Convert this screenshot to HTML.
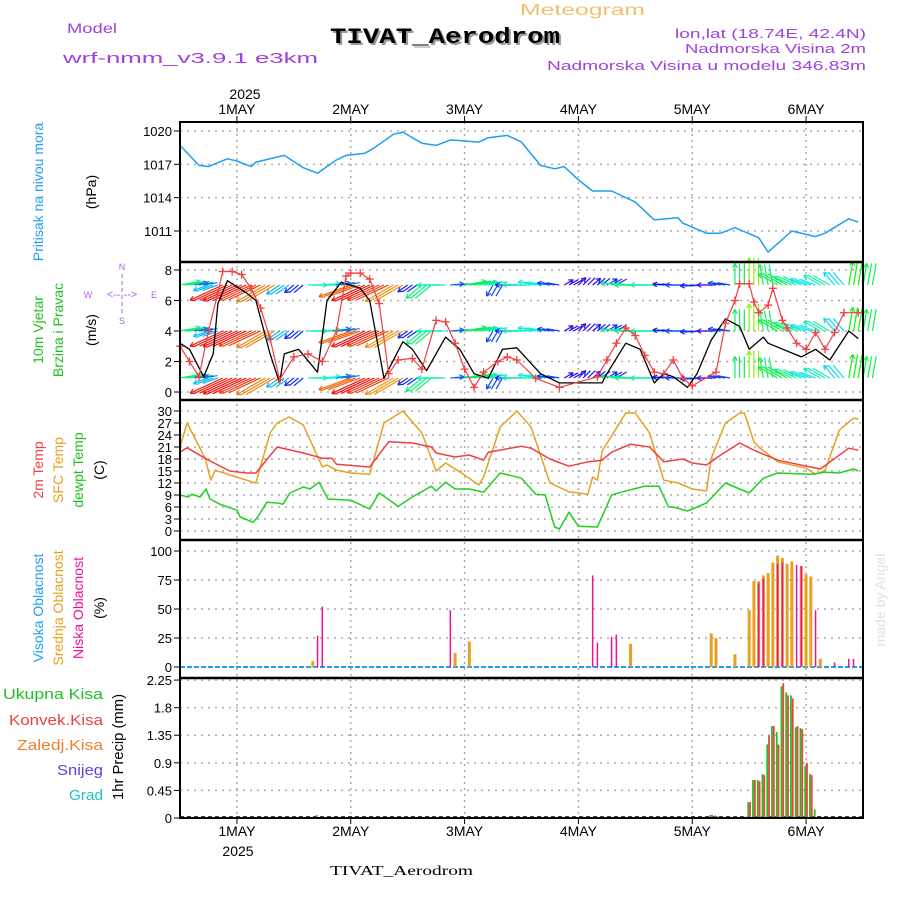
<!DOCTYPE html>
<html><head><meta charset="utf-8"><style>
html,body{margin:0;padding:0;background:#fff;}
svg{display:block;font-family:"Liberation Sans",sans-serif;}
</style></head><body>
<svg id="chart" width="900" height="900" viewBox="0 0 900 900">
<rect x="0" y="0" width="900" height="900" fill="#fff"/>
<text x="67" y="33" font-size="14" fill="#a040e0" textLength="50" lengthAdjust="spacingAndGlyphs">Model</text>
<text x="63" y="63" font-size="15" fill="#a040e0" textLength="255" lengthAdjust="spacingAndGlyphs">wrf-nmm_v3.9.1 e3km</text>
<text x="520" y="15" font-size="16" fill="#f0c070" textLength="125" lengthAdjust="spacingAndGlyphs">Meteogram</text>
<text x="332" y="45" font-size="22" font-weight="bold" fill="#999" textLength="230" lengthAdjust="spacingAndGlyphs" font-family="Liberation Mono,monospace">TIVAT_Aerodrom</text>
<text x="330" y="43" font-size="22" font-weight="bold" fill="#000" textLength="230" lengthAdjust="spacingAndGlyphs" font-family="Liberation Mono,monospace">TIVAT_Aerodrom</text>
<text x="675" y="38" font-size="13" fill="#a040e0" textLength="191" lengthAdjust="spacingAndGlyphs">lon,lat (18.74E, 42.4N)</text>
<text x="685" y="53" font-size="13" fill="#a040e0" textLength="181" lengthAdjust="spacingAndGlyphs">Nadmorska Visina 2m</text>
<text x="547" y="70" font-size="13" fill="#a040e0" textLength="319" lengthAdjust="spacingAndGlyphs">Nadmorska Visina u modelu 346.83m</text>

<text transform="translate(43,192) rotate(-90)" font-size="14" fill="#1ea0f0" text-anchor="middle">Pritisak na nivou mora</text>
<text transform="translate(96,192) rotate(-90)" font-size="14" fill="#000" text-anchor="middle">(hPa)</text>
<text transform="translate(43,330) rotate(-90)" font-size="14" fill="#20c020" text-anchor="middle">10m Vjetar</text>
<text transform="translate(63,330) rotate(-90)" font-size="14" fill="#20c020" text-anchor="middle">Brzina i Pravac</text>
<text transform="translate(96,330) rotate(-90)" font-size="14" fill="#000" text-anchor="middle">(m/s)</text>
<g fill="#b060f0" font-size="9">
<text x="122" y="270" text-anchor="middle">N</text><text x="122" y="324" text-anchor="middle">S</text>
<text x="88" y="298" text-anchor="middle">W</text><text x="154" y="298" text-anchor="middle">E</text>
<text x="122" y="298" text-anchor="middle" font-size="11">&lt;-- --&gt;</text>
<line x1="122" y1="274" x2="122" y2="314" stroke="#b060f0" stroke-dasharray="4,3"/>
</g>
<text transform="translate(43,470) rotate(-90)" font-size="14" fill="#f04040" text-anchor="middle">2m Temp</text>
<text transform="translate(63,470) rotate(-90)" font-size="14" fill="#e8a020" text-anchor="middle">SFC Temp</text>
<text transform="translate(83,470) rotate(-90)" font-size="14" fill="#20c020" text-anchor="middle">dewpt Temp</text>
<text transform="translate(104,470) rotate(-90)" font-size="14" fill="#000" text-anchor="middle">(C)</text>
<text transform="translate(43,608) rotate(-90)" font-size="14" fill="#1ea0f0" text-anchor="middle">Visoka Oblacnost</text>
<text transform="translate(63,608) rotate(-90)" font-size="14" fill="#e8a020" text-anchor="middle">Srednja Oblacnost</text>
<text transform="translate(83,608) rotate(-90)" font-size="14" fill="#f0109a" text-anchor="middle">Niska Oblacnost</text>
<text transform="translate(104,608) rotate(-90)" font-size="14" fill="#000" text-anchor="middle">(%)</text>
<text x="3" y="699" font-size="15" fill="#20c020" textLength="100" lengthAdjust="spacingAndGlyphs">Ukupna Kisa</text>
<text x="9" y="725" font-size="15" fill="#f04040" textLength="94" lengthAdjust="spacingAndGlyphs">Konvek.Kisa</text>
<text x="17" y="750" font-size="15" fill="#f08030" textLength="86" lengthAdjust="spacingAndGlyphs">Zaledj.Kisa</text>
<text x="57" y="775" font-size="15" fill="#6040e0" textLength="46" lengthAdjust="spacingAndGlyphs">Snijeg</text>
<text x="69" y="800" font-size="15" fill="#20c0c0" textLength="34" lengthAdjust="spacingAndGlyphs">Grad</text>
<text transform="translate(123,747) rotate(-90)" font-size="15" fill="#000" text-anchor="middle" textLength="106" lengthAdjust="spacingAndGlyphs">1hr Precip (mm)</text>
<text transform="translate(885,600) rotate(-90)" font-size="14" fill="#d8e4dc" text-anchor="middle">made by Angel</text>
<text x="245" y="99" font-size="14" fill="#000" text-anchor="middle">2025</text>
<text x="238" y="856" font-size="14" fill="#000" text-anchor="middle">2025</text>
<text x="330" y="875" font-size="14" fill="#000" textLength="143" lengthAdjust="spacingAndGlyphs" font-family="Liberation Serif,serif">TIVAT_Aerodrom</text>
<g id="plot"></g>
</svg>
<script>
// ---- data ----
var dayLabels = ["1MAY","2MAY","3MAY","4MAY","5MAY","6MAY"];
var pHours = [0,4,6,10,12,15,16,22,26,29,33,35,39,41,45,47,51,54,57,63,65,69,72,76,79,81,84,87,91,96,100,105,106,111,114,117,122,124,129,134,136,141,143];
var pVals = [1018.7,1016.9,1016.8,1017.5,1017.3,1016.8,1017.2,1017.8,1016.7,1016.2,1017.4,1017.8,1018,1018.5,1019.7,1019.9,1018.9,1018.7,1019.2,1019,1019.4,1019.6,1019,1016.9,1016.6,1016.8,1015.6,1014.6,1014.6,1013.6,1012,1012.2,1011.7,1010.8,1010.8,1011.3,1010.4,1009.1,1011,1010.5,1010.8,1012.1,1011.8];
var pTicks = [1020,1017,1014,1011];

var wsHours = [0,2,5,7,8,10,14,16,19,21,22,25,29,31,34,38,40,43,47,49,52,56,59,62,65,68,71,76,80,89,90,94,97,100,102,104,107,109,112,115,118,120,123,124,131,134,137,141,143];
var wsVals = [3.2,2.8,1,2.5,5.8,7.3,6.5,6,2.5,0.6,2.5,2.8,1.3,6,7.2,6.8,6,0.9,3.3,2.8,1.4,3.6,2.8,1.2,0.9,2.8,2.9,1.2,0.6,0.6,1.2,3.2,2.8,0.6,1.2,1,0.3,1.2,3.4,4.8,4.3,2.8,3.6,3.2,2.3,2.8,2.1,4,3.5];
var gustHours = [0,2,4,6,8,9,11,13,15,17,19,21,24,27,30,33,35,36,38,40,42,44,46,49,51,54,56,58,60,62,64,67,69,71,75,80,88,90,92,94,96,98,100,102,104,106,108,113,115,117,118,120,121,122,124,125,127,128,130,132,134,136,138,140,143];
var gustVals = [3,2,1,4,6.5,7.9,7.9,7.7,6.8,5.5,3.5,0.8,2.3,2.5,2,4,7.6,7.8,7.8,7.4,5.8,1.2,2.1,2.2,1.5,4.7,4.6,3.2,1.5,0.3,1.3,2,2.3,2.1,0.9,0.3,1,2.1,3.2,4.2,3.7,2.4,1.3,1.2,2.1,0.9,0.4,1.3,4.5,6,7.1,7.1,5.9,5.2,5.7,6.8,4.7,4.2,3.2,2.8,3.9,2.8,3.9,5.2,5.2];
var arrowSpd = [3.2,1.5,2,7,7.3,6.8,6.3,2,1,2.8,2.5,1.5,6.5,7.2,6.8,6.2,1,3.2,2.8,1.4,3.5,2.8,1.2,1,2.8,2.5,1.2,0.6,0.6,0.6,1,3,3.2,2.8,0.8,1.2,1,0.4,1.2,3.4,4.8,3.2,3.6,3,2.3,2.8,2.2,4,3.5];
var arrowDir = [10,10,200,205,205,205,210,215,220,0,5,10,200,205,205,210,215,220,180,5,10,10,240,180,180,170,170,30,45,40,30,175,180,180,175,180,185,180,170,90,90,100,150,155,160,150,130,80,80];
var wTicks = [0,2,4,6,8];

var t2Hours = [0,1.5,6,10.5,14,16,20.5,26,30,32,33,40,44,49,53,54,58,61,64,65,72,74,78,82,86,89,91,95,99,102,106,108,111,114,118,121,126,135,141,143];
var t2Vals = [19.7,20.8,17.7,15,14.5,14.5,21,19.5,18.2,18.2,16.7,16,22.3,22,21,19.5,18.5,19,17.7,19.7,21.2,20.7,18,16.2,17.3,17.7,19.7,21.7,21,17.3,18,17,16.5,19,22,20.2,17.7,15.5,20.7,20.2];
var sfcHours = [0,1.5,5.3,6.5,7.4,10.5,16,19,20.5,23,26,30,31,33,36,40,43,47,51,54,56,60,63,64,67.5,71,74,78,82,86,87,88,89,92,94,96,99,102,105,108,111,112,115,118,119,121,122,126,132,134,136,139,142,143];
var sfcVals = [21,27,18.2,12.7,15.2,14,12,24.5,27,28.5,26.5,16,16.5,15.2,14.5,14.2,27,30,24.5,15,17,14,11.5,13.5,26,30,26,12,9.8,9.2,13.5,12.7,20,25.7,29.5,29.5,24.5,12.7,12,10.5,10,18.2,27,29.5,29.5,22.3,21,17.3,15.7,14.2,15.2,25.2,28.2,28];
var tdHours = [0,1.7,2.5,4.2,5.5,6.3,8.4,12,12.7,15.4,16.4,18.3,20.5,21.7,23.2,26,27.4,29.3,31.2,36,40,42,46,49,53,54,56,58,61,64,67.5,72,75,77,79,80,82,84,88,91,93,98,101,103,104,107,111,115,120,123,126,133,136,139,142,143];
var tdVals = [9,8.5,9.2,8.5,10.5,8,6.7,5.2,3.5,2.2,3.5,7.2,7,6.7,9.5,11,10.5,12.2,8,7.7,5.5,9.5,6.2,8.5,11.2,10,12.2,10.5,10.5,9.7,14.5,13.2,9.2,9,1,0.5,4.7,1.2,1,9,9.7,11.2,11.2,6,6,5,7,12,9.5,13.2,14.5,14.2,14.7,14.5,15.5,15];
var tTicks = [0,3,6,9,12,15,18,21,24,27,30];

var lowHours = [29,30,57,87,88,91,92,122,123,126,127,130,131,134,138,141,142];
var lowVals = [27,52,49,79,21,26,28,72,76,89,90,88,87,49,4,7,7];
var midHours = [28,58,61,95,112,113,117,120,121,122,123,124,125,126,127,128,129,131,132,133,135];
var midVals = [5,12,22,20,29,25,11,49,74,74,79,81,90,96,94,89,91,87,80,78,7];
var cTicks = [0,25,50,75,100];

var prHours = [29,112,113,117,119,120,121,122,123,124,125,126,127,128,129,130,131,132,133,134];
var totalVals = [0.05,0.05,0.04,0.02,0.02,0.26,0.62,0.62,0.72,1.2,1.5,1.4,2.15,2.05,2.0,1.48,1.47,0.85,0.72,0.14];
var convVals = [0.0,0.05,0.03,0.01,0.02,0.26,0.62,0.6,0.7,1.35,1.5,1.2,2.2,2.0,1.95,1.5,1.45,0.9,0.7,0.0];
var prTicks = ["0","0.45","0.9","1.35","1.8","2.25"];

// ---- geometry ----
var X0=180, X1=863, HOURS=144;
function xs(h){return X0+h*(X1-X0)/HOURS;}
function yP(v){return 131+(1020-v)*100/9;}
function yW(v){return 392-v*15.25;}
function yT(v){return 531-v*4;}
function yC(v){return 667-v*1.16;}
function yR(v){return 818-v*61.3;}

var NS="http://www.w3.org/2000/svg";
var plot=document.getElementById('plot');
function mk(tag,attrs,parent){var e=document.createElementNS(NS,tag);for(var k in attrs)e.setAttribute(k,attrs[k]);(parent||plot).appendChild(e);return e;}

var gridG=mk('g',{});


function hgrid(y){mk('line',{x1:X0,x2:X1,y1:y,y2:y,stroke:'#aaa','stroke-width':1.5,'stroke-dasharray':'2,5'},gridG);}
for(var d=0;d<6;d++){var xd=xs(12+24*d);mk('line',{x1:xd,x2:xd,y1:122,y2:818,stroke:'#aaa','stroke-width':1.5,'stroke-dasharray':'2,4'},gridG);}
pTicks.forEach(function(v){hgrid(yP(v));});
wTicks.forEach(function(v){hgrid(yW(v));});
tTicks.forEach(function(v){hgrid(yT(v));});
cTicks.forEach(function(v){hgrid(yC(v));});
prTicks.forEach(function(v){hgrid(yR(+v));});

function ticks(arr,fy,name){arr.forEach(function(v){var y=fy(+v);
 var t=mk('text',{x:172,y:y+5,'font-size':13,'text-anchor':'end',fill:'#000'});t.textContent=v;
 
 
 mk('line',{x1:174,x2:X0,y1:y,y2:y,stroke:'#000'});});}
ticks(pTicks,yP,'pressure');ticks(wTicks,yW,'wind');ticks(tTicks,yT,'temp');ticks(cTicks,yC,'cloud');ticks(prTicks,yR,'precip');

dayLabels.forEach(function(lbl,i){var xd=xs(12+24*i);
 var a=mk('text',{x:xd,y:114,'font-size':14,'text-anchor':'middle'});a.textContent=lbl;
 
 
 var b=mk('text',{x:xd,y:836,'font-size':14,'text-anchor':'middle'});b.textContent=lbl;
 
 
 mk('line',{x1:xd,x2:xd,y1:116,y2:122,stroke:'#000'});
 mk('line',{x1:xd,x2:xd,y1:818,y2:824,stroke:'#000'});
});

function line(hs,vs,fy,color,name,w){var d='';for(var i=0;i<hs.length;i++){d+=(i?'L':'M')+xs(hs[i]).toFixed(1)+','+fy(vs[i]).toFixed(1);}
 var p=mk('path',{d:d,fill:'none',stroke:color,'stroke-width':w||1.5,'stroke-linejoin':'round'});
 
 return p;}

line(pHours,pVals,yP,'#1ea0f0','pressure-line');

var arrowG=mk('g',{});


var rows=[285,331,378];
rows.forEach(function(ry){
 for(var i=0;i<arrowSpd.length;i++){
  var h=i*3, s=arrowSpd[i], a=arrowDir[i]*Math.PI/180, L=8+4*s;
  var hue=Math.max(0,270-s*38);
  var col='hsl('+hue+',90%,50%)';
  var x0=xs(h), x1=x0+L*Math.cos(a), y1=ry-L*Math.sin(a);
  var ar=mk('g',{stroke:col,'stroke-width':1.2,fill:'none'},arrowG);
  
  
  mk('line',{x1:x0,y1:ry,x2:x1,y2:y1},ar);
  for(var k=-1;k<=1;k+=2){var b=a+Math.PI+k*0.5;mk('line',{x1:x1,y1:y1,x2:x1+5*Math.cos(b),y2:y1-5*Math.sin(b)},ar);}
  for(var j=1;j<3;j++){var xo=x0+j*4.7;mk('line',{x1:xo,y1:ry,x2:xo+L*Math.cos(a),y2:ry-L*Math.sin(a)},ar);}
 }
});
line(wsHours,wsVals,yW,'#000','wind-speed-line',1.3);
line(gustHours,gustVals,yW,'#f04040','wind-gust-line',1.2);
var gG=mk('g',{stroke:'#f04040','stroke-width':1.3});


for(var i=0;i<gustHours.length;i++){var gx=xs(gustHours[i]),gy=yW(gustVals[i]);
 mk('line',{x1:gx-4,x2:gx+4,y1:gy,y2:gy},gG);mk('line',{x1:gx,x2:gx,y1:gy-4,y2:gy+4},gG);}

line(sfcHours,sfcVals,yT,'#e8a020','sfc-temp-line');
line(t2Hours,t2Vals,yT,'#f04040','temp-2m-line');
line(tdHours,tdVals,yT,'#20d020','dewpoint-line');

var base=mk('line',{x1:X0,x2:X1,y1:yC(0),y2:yC(0),stroke:'#1ea0f0','stroke-width':2,'stroke-dasharray':'5,2'});


for(var i=0;i<midHours.length;i++){var bx=xs(midHours[i]);
 var r=mk('rect',{x:bx-1.5,y:yC(midVals[i]),width:3,height:yC(0)-yC(midVals[i]),fill:'#e8a020'});
 
 }
for(var i=0;i<lowHours.length;i++){var bx=xs(lowHours[i]);
 var r=mk('rect',{x:bx-0.75,y:yC(lowVals[i]),width:1.5,height:yC(0)-yC(lowVals[i]),fill:'#f0109a'});
 
 }

mk('line',{x1:X0,x2:X1,y1:817,y2:817,stroke:'#000','stroke-width':1.5,'stroke-dasharray':'4,3'});
for(var i=0;i<prHours.length;i++){var bx=xs(prHours[i]);
 var g1=mk('rect',{x:bx-1.8,y:yR(totalVals[i]),width:1.8,height:818-yR(totalVals[i]),fill:'#20c020'});
 
 
 var r1=mk('rect',{x:bx,y:yR(convVals[i]),width:1.8,height:818-yR(convVals[i]),fill:'#f04040'});
 
 }

var fr=mk('g',{fill:'none',stroke:'#000','stroke-width':2});


mk('rect',{x:X0,y:122,width:X1-X0,height:696},fr);
[262,400,540,678].forEach(function(y){mk('line',{x1:X0,x2:X1,y1:y,y2:y,'stroke-width':2.5},fr);});
</script>
</body></html>
